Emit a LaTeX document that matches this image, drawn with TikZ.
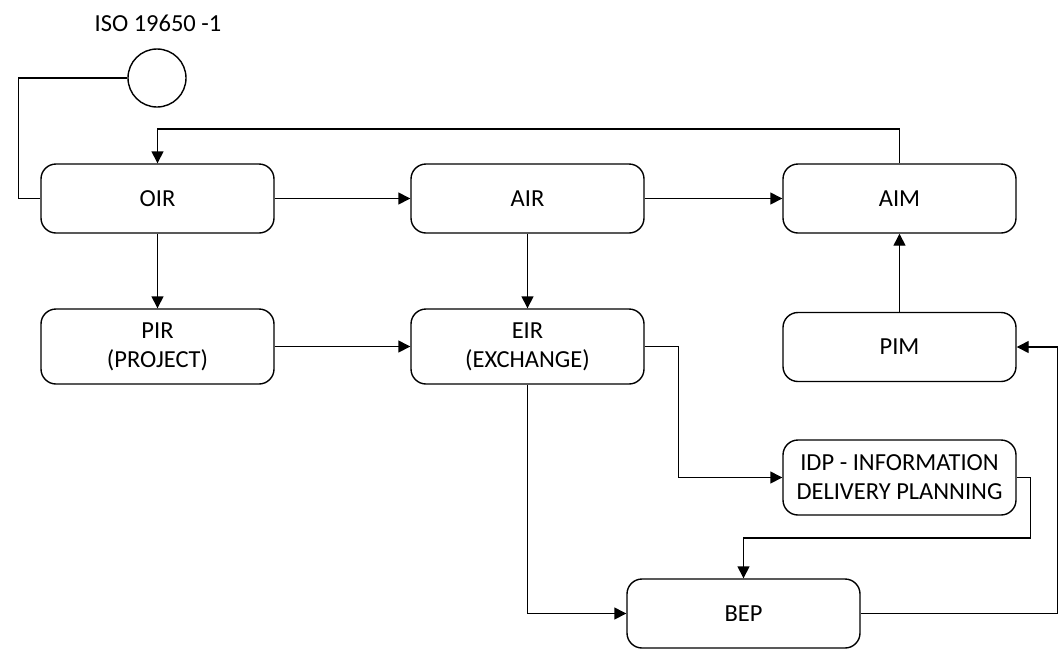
\documentclass[tikz,border=0pt]{standalone}
\usepackage{fontspec}
\setmainfont{Carlito}
\usetikzlibrary{arrows.meta}
\tikzset{
  box/.style={draw, line width=1.4pt, rounded corners=15pt, minimum width=233pt, minimum height=69pt, align=center, inner sep=0pt, font=\fontsize{24.5}{29}\selectfont},
  tall/.style={minimum height=75pt},
  conn/.style={line width=1.4pt},
  arr/.style={conn, -{Triangle[length=12pt,width=12pt]}}
}
\begin{document}
\begin{tikzpicture}[x=1pt,y=-1pt]
\useasboundingbox (0,0) rectangle (1062,649);
\node[font=\fontsize{24.5}{29}\selectfont] (iso) at (158,23) {ISO 19650 -1};
\node[draw, circle, line width=1.4pt, minimum size=58pt, inner sep=0pt] (circ) at (157,78) {};
\node[box] (OIR) at (157.5,198.5) {OIR};
\node[box] (AIR) at (527.5,198.5) {AIR};
\node[box] (AIM) at (899.5,198.5) {AIM};
\node[box,tall] (PIR) at (157.5,346.5) {PIR\\(PROJECT)};
\node[box,tall] (EIR) at (527.5,346.5) {EIR\\(EXCHANGE)};
\node[box] (PIM) at (899.5,347) {PIM};
\node[box,tall] (IDP) at (899.5,477.5) {IDP - INFORMATION\\DELIVERY PLANNING};
\node[box] (BEP) at (743.5,613.5) {BEP};

\draw[conn] (circ.west) -- ++(-109,0) |- (OIR.west);
\draw[arr] (AIM.north) -- ++(0,-34.5) -| (OIR.north);
\draw[arr] (OIR.east) -- (AIR.west);
\draw[arr] (AIR.east) -- (AIM.west);
\draw[arr] (OIR.south) -- (PIR.north);
\draw[arr] (AIR.south) -- (EIR.north);
\draw[arr] (PIM.north) -- (AIM.south);
\draw[arr] (PIR.east) -- (EIR.west);
\draw[arr] (EIR.east) -- ++(34,0) |- (IDP.west);
\draw[arr] (EIR.south) |- (BEP.west);
\draw[arr] (IDP.east) -- ++(14,0) -- ++(0,60.5) -| (BEP.north);
\draw[arr] (BEP.east) -- ++(197,0) |- (PIM.east);
\end{tikzpicture}
\end{document}
